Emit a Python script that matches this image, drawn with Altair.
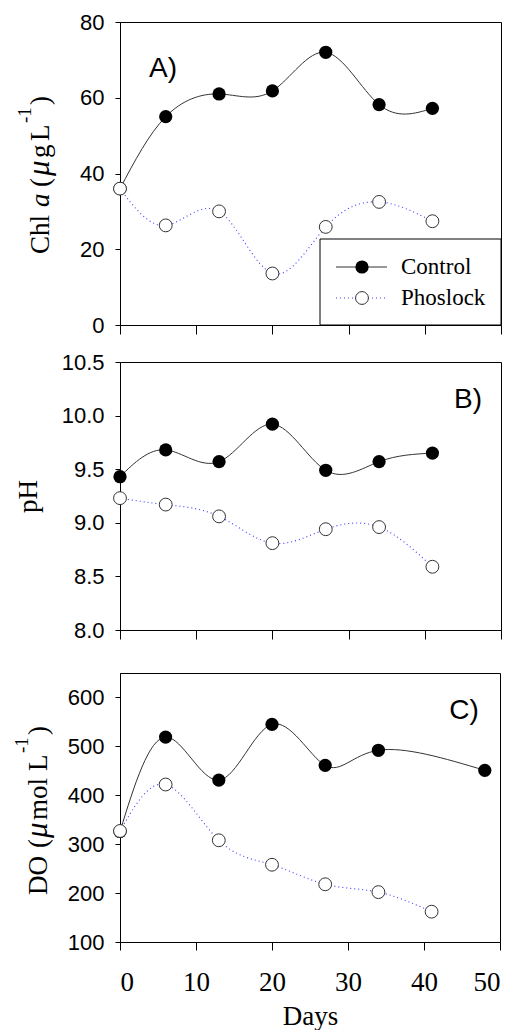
import altair as alt
import pandas as pd

# ---------------- data ----------------
days = [0, 6, 13, 20, 27, 34, 41]
do_control_days = [0, 6, 13, 20, 27, 34, 48]

chl_control = [36.0, 55.0, 61.0, 61.8, 72.0, 58.2, 57.2]
chl_phoslock = [36.0, 26.3, 30.0, 13.6, 25.9, 32.5, 27.4]
ph_control = [9.43, 9.68, 9.57, 9.92, 9.49, 9.57, 9.65]
ph_phoslock = [9.23, 9.17, 9.06, 8.81, 8.94, 8.96, 8.59]
do_control = [326, 519, 431, 545, 461, 492, 451]
do_phoslock = [327, 422, 308, 258, 218, 202, 162]

x_ticks = [0, 10, 20, 30, 40, 50]
chl_ticks = [0, 20, 40, 60, 80]
ph_ticks = [8.0, 8.5, 9.0, 9.5, 10.0, 10.5]
do_ticks = [100, 200, 300, 400, 500, 600]
series_names = ["Control", "Phoslock"]
panel_labels = ["A)", "B)", "C)"]

SERIF = "Liberation Serif"
SANS = "Liberation Sans"
CTRL_COLOR = "#333333"
PHOS_COLOR = "#3c3cff"
ONE = [{}]


def df(xs, ys):
    return pd.DataFrame({"day": xs, "v": ys})


def x_enc(labels):
    if labels:
        ax = alt.Axis(values=x_ticks, title="Days", labelFont=SERIF, labelFontSize=27,
                      labelPadding=19, titleFont=SERIF, titleFontSize=27,
                      titleFontWeight="normal", titlePadding=8, tickSize=8,
                      labelColor="black", titleColor="black")
    else:
        ax = alt.Axis(values=x_ticks, labels=False, title=None, tickSize=9)
    return alt.X("day:Q", scale=alt.Scale(domain=[0, 50], nice=False), axis=ax)


def y_enc(domain, ticks, fmt=None):
    kw = dict(values=ticks, title=None, labelFont=SANS, labelFontSize=22,
              labelPadding=11, tickSize=5, labelColor="black")
    if fmt:
        kw["format"] = fmt
    return alt.Y("v:Q", scale=alt.Scale(domain=domain, nice=False, zero=False),
                 axis=alt.Axis(**kw))


def series(dc, dp, xe, ye):
    lc = alt.Chart(dc).mark_line(interpolate="natural", color=CTRL_COLOR,
                                 strokeWidth=1).encode(x=xe, y=ye)
    pc = alt.Chart(dc).mark_circle(color="black", opacity=1, size=175).encode(x=xe, y=ye)
    lp = alt.Chart(dp).mark_line(interpolate="natural", color=PHOS_COLOR,
                                 strokeWidth=1.1, strokeDash=[1, 3]).encode(x=xe, y=ye)
    pp = alt.Chart(dp).mark_circle(fill="white", stroke="#333333", strokeWidth=1,
                                   opacity=1, size=165).encode(x=xe, y=ye)
    return [lc, pc, lp, pp]


def vtext(txt, x, y, size=27, style="normal"):
    return alt.Chart(alt.InlineData(values=ONE)).mark_text(
        text=txt, angle=270, align="left", baseline="alphabetic", font=SERIF,
        fontSize=size, fontStyle=style, color="black").encode(
        x=alt.value(x), y=alt.value(y))


def label(txt, x, y):
    return alt.Chart(alt.InlineData(values=ONE)).mark_text(
        text=txt, align="center", baseline="middle", font=SANS, fontSize=28,
        color="black").encode(x=alt.value(x), y=alt.value(y))


def bounds(xl, top, bottom):
    return alt.Chart(alt.InlineData(values=ONE)).mark_rule(opacity=0).encode(
        x=alt.value(xl), y=alt.value(top), y2=alt.value(bottom))


# ---------------- panel A ----------------
WA, HA = 381, 303
xa = x_enc(False)
ya = y_enc([0, 80], chl_ticks)
a_layers = series(df(days, chl_control), df(days, chl_phoslock), xa, ya)

leg = [
    alt.Chart(alt.InlineData(values=ONE)).mark_rect(fill="white", stroke="black", strokeWidth=1)
    .encode(x=alt.value(200), x2=alt.value(WA), y=alt.value(217), y2=alt.value(HA)),
    alt.Chart(alt.InlineData(values=ONE)).mark_rule(color=CTRL_COLOR, strokeWidth=1)
    .encode(x=alt.value(216), x2=alt.value(267), y=alt.value(245)),
    alt.Chart(alt.InlineData(values=ONE)).mark_circle(color="black", opacity=1, size=175)
    .encode(x=alt.value(242), y=alt.value(245)),
    alt.Chart(alt.InlineData(values=ONE)).mark_rule(color=PHOS_COLOR, strokeWidth=1.1, strokeDash=[1, 3])
    .encode(x=alt.value(216), x2=alt.value(267), y=alt.value(276)),
    alt.Chart(alt.InlineData(values=ONE)).mark_circle(fill="white", stroke="#333333", strokeWidth=1,
                                                        opacity=1, size=165)
    .encode(x=alt.value(242), y=alt.value(276)),
    alt.Chart(alt.InlineData(values=ONE)).mark_text(text=series_names[0], align="left", baseline="middle",
                                                      font=SERIF, fontSize=23, color="black")
    .encode(x=alt.value(281), y=alt.value(245)),
    alt.Chart(alt.InlineData(values=ONE)).mark_text(text=series_names[1], align="left", baseline="middle",
                                                      font=SERIF, fontSize=23, color="black")
    .encode(x=alt.value(281), y=alt.value(276)),
]

title_a = [
    vtext("Chl", -71, 232),
    vtext("a", -71, 185, style="italic"),
    vtext("(", -71, 165),
    vtext("\u03bc", -71, 154, size=31, style="italic"),
    vtext("g", -71, 136),
    vtext("L", -71, 119),
    vtext("-1", -89, 101, size=19),
    vtext(")", -71, 83),
]

panel_a = alt.layer(
    bounds(-108, -13, HA + 13),
    *a_layers, *leg, *title_a,
    label(panel_labels[0], 43, 47),
).properties(width=WA, height=HA)

# ---------------- panel B ----------------
WB, HB = 381, 268
xb = x_enc(False)
yb = y_enc([8.0, 10.5], ph_ticks, ".1f")
b_layers = series(df(days, ph_control), df(days, ph_phoslock), xb, yb)
panel_b = alt.layer(
    bounds(-108, -17, HB + 13),
    *b_layers,
    vtext("pH", -83, 151),
    label(panel_labels[1], 348, 38),
).properties(width=WB, height=HB)

# ---------------- panel C ----------------
WC, HC = 380, 269
xc = x_enc(True)
yc = y_enc([100, 650], do_ticks)
c_layers = series(df(do_control_days, do_control), df(days, do_phoslock), xc, yc)
title_c = [
    vtext("DO", -73, 222),
    vtext("(", -73, 175),
    vtext("\u03bc", -73, 165, size=31, style="italic"),
    vtext("mol", -73, 147),
    vtext("L", -73, 98),
    vtext("-1", -92, 80, size=19),
    vtext(")", -73, 62),
]
panel_c = alt.layer(
    bounds(-111, -23, HC),
    *c_layers, *title_c,
    label(panel_labels[2], 344, 38),
).properties(width=WC, height=HC)

chart = alt.vconcat(panel_a, panel_b, panel_c, spacing=5).properties(
    padding={"left": 0, "top": 0, "right": 0, "bottom": 0}
).configure_view(stroke="black", strokeWidth=1).configure_axis(
    grid=False, domainColor="black", tickColor="black", domainWidth=1, tickWidth=1
)

chart.save("out.html", embed_options={"renderer": "svg", "actions": False})
